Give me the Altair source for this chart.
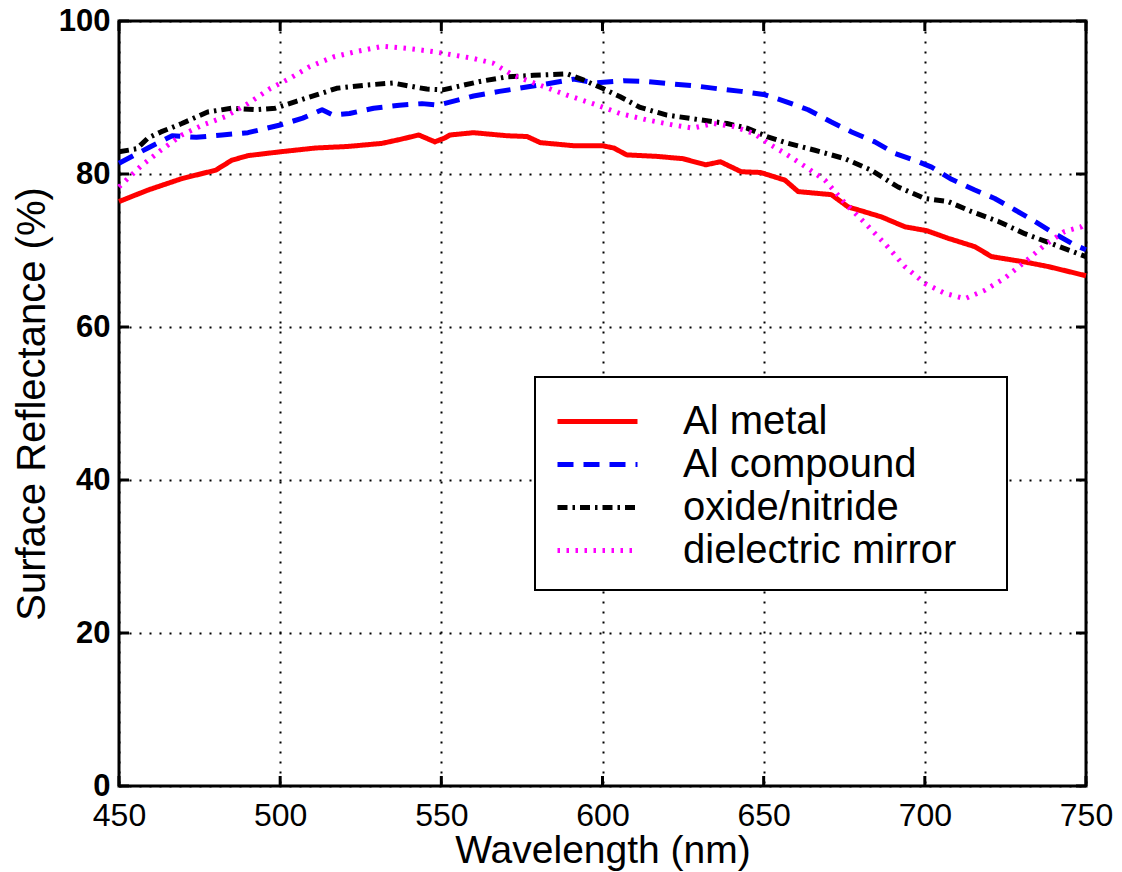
import altair as alt
import pandas as pd

FONT = "Liberation Sans, Arial, Helvetica, sans-serif"

SERIES = ["Al metal", "Al compound", "oxide/nitride", "dielectric mirror"]
COLORS = ["#ff0000", "#0000ff", "#000000", "#ff00ff"]
DASHES = [[1, 0], [16, 10], [10, 5, 2.5, 5], [2.5, 6.5]]

X_TICKS = [450, 500, 550, 600, 650, 700, 750]
Y_TICKS = [0, 20, 40, 60, 80, 100]

# Wavelength (nm) and reflectance (%) for each surface
wl_metal = [450, 459, 469.5, 480, 485, 490, 500, 511, 521, 531.5, 537, 543, 548, 551,
            552.7, 560, 570.4, 576.6, 580.7, 591, 600, 603.5, 607.5, 617, 625, 632,
            636.6, 643, 649, 656.6, 660.7, 671, 676.2, 686.5, 693.8, 700.5, 707.2,
            715.5, 720.7, 731, 738.3, 750]
r_metal = [76.4, 77.9, 79.4, 80.5, 81.8, 82.4, 82.9, 83.4, 83.6, 84.0, 84.5, 85.1, 84.2, 84.7,
           85.1, 85.4, 85.0, 84.9, 84.1, 83.7, 83.7, 83.4, 82.5, 82.3, 82.0, 81.2,
           81.6, 80.3, 80.2, 79.2, 77.7, 77.3, 75.7, 74.4, 73.1, 72.6, 71.6,
           70.5, 69.2, 68.5, 67.9, 66.7]

wl_compound = [450, 459, 466.5, 474, 482, 490, 500, 507, 513, 516.5, 521.5, 529, 537, 544,
               549, 560, 568, 575.5, 583, 591, 598, 606.5, 613.5, 620.8, 629, 636.6, 643,
               650, 656.6, 663.8, 671, 677.3, 684.5, 690.7, 698, 702.1, 708.3, 715.5,
               721.7, 728, 734.1, 740.3, 746.5, 750]
r_compound = [81.4, 83.4, 85.0, 84.8, 85.1, 85.4, 86.4, 87.3, 88.4, 87.7, 87.9, 88.6, 89.0, 89.2,
              89.0, 90.2, 90.8, 91.3, 91.8, 92.4, 91.9, 92.2, 92.1, 91.8, 91.5, 91.1, 90.8,
              90.4, 89.5, 88.4, 86.8, 85.5, 84.2, 82.7, 81.6, 80.9, 79.3, 77.9,
              76.8, 75.3, 73.8, 72.2, 70.7, 70.1]

wl_oxide = [450, 455.5, 459, 463, 469.5, 477.5, 485, 492.5, 498.5, 505, 511, 517.5, 526, 535,
            540, 545.5, 550.5, 562, 570.4, 578.6, 589, 594, 600, 605.5, 611.7, 620, 630,
            638.6, 644.8, 651, 657.6, 665.9, 675.2, 683.4, 691.7, 700, 707.2, 714.4,
            722.8, 731, 739.3, 750]
r_oxide = [82.9, 83.3, 84.7, 85.5, 86.6, 88.1, 88.6, 88.4, 88.6, 89.5, 90.3, 91.2, 91.6, 91.9,
           91.5, 91.1, 91.0, 92.1, 92.7, 92.9, 93.1, 92.3, 91.2, 90.1, 88.7, 87.7, 87.1,
           86.6, 86.0, 84.9, 84.0, 83.1, 82.0, 80.5, 78.3, 76.8, 76.4, 75.1,
           73.8, 72.2, 70.9, 69.2]

wl_mirror = [450, 456.7, 463, 469.5, 476, 483, 490, 497, 503, 509, 516.5, 523.5, 532, 540,
             547.5, 560, 566, 572.3, 580.7, 589, 597, 605.5, 613.5, 622, 628, 634.5, 640.7,
             647, 651.4, 656.6, 662.8, 669, 675.2, 681.4, 687.6, 693.8, 700, 706.2, 712.4,
             718.6, 724.8, 731, 737.2, 743.4, 748.6, 750]
r_mirror = [78.3, 81.0, 83.1, 85.1, 86.4, 87.5, 89.2, 91.2, 92.5, 94.0, 95.3, 96.0, 96.7, 96.4,
            96.0, 95.1, 94.5, 92.9, 91.6, 90.3, 89.2, 87.9, 87.1, 86.4, 86.0, 86.6, 86.2,
            85.3, 84.0, 82.7, 81.0, 79.2, 76.2, 73.6, 70.9, 67.9, 65.7, 64.4, 63.7,
            64.8, 66.4, 68.5, 70.7, 72.5, 73.1, 73.5]

frames = []
for name, wl, r in [
    (SERIES[0], wl_metal, r_metal),
    (SERIES[1], wl_compound, r_compound),
    (SERIES[2], wl_oxide, r_oxide),
    (SERIES[3], wl_mirror, r_mirror),
]:
    frames.append(pd.DataFrame({"wavelength": wl, "reflectance": r, "series": name}))
df = pd.concat(frames, ignore_index=True)

W, H = 967, 765
x_scale = alt.Scale(domain=[450, 750], nice=False, zero=False)
y_scale = alt.Scale(domain=[0, 100], nice=False)

legend_kw = dict(
    title=None, orient="none", legendX=456, legendY=378,
    symbolType="M-2,0H2", symbolSize=1600, symbolStrokeWidth=5,
    labelFontSize=40, labelFont=FONT, labelColor="black", labelOffset=63,
    rowPadding=0, padding=0, labelLimit=400,
)

x_axis = alt.Axis(
    values=X_TICKS, format="d", title="Wavelength (nm)",
    labelFont=FONT, labelFontSize=32, labelColor="black", labelPadding=14,
    labelFlush=False, labelOverlap=False,
    ticks=False, tickSize=0, domain=False,
    grid=True, gridColor="black", gridDash=[2, 8], gridWidth=2, gridOpacity=1,
    titleFont=FONT, titleFontSize=39, titleFontWeight="normal", titleColor="black",
    titlePadding=0,
)
y_axis = alt.Axis(
    values=Y_TICKS, format="d", title="Surface Reflectance (%)",
    labelFont=FONT, labelFontSize=31, labelFontWeight="bold", labelColor="black",
    labelPadding=9, labelOverlap=False,
    ticks=False, tickSize=0, domain=False,
    grid=True, gridColor="black", gridDash=[2, 8], gridWidth=2, gridOpacity=1,
    titleFont=FONT, titleFontSize=40, titleFontWeight="normal", titleColor="black",
    titlePadding=6,
)

lines = alt.Chart(df).mark_line(strokeWidth=5, strokeCap="butt", strokeJoin="round").encode(
    x=alt.X("wavelength:Q", scale=x_scale, axis=x_axis),
    y=alt.Y("reflectance:Q", scale=y_scale, axis=y_axis),
    color=alt.Color("series:N", scale=alt.Scale(domain=SERIES, range=COLORS),
                    legend=alt.Legend(**legend_kw)),
    strokeDash=alt.StrokeDash("series:N", scale=alt.Scale(domain=SERIES, range=DASHES),
                              legend=alt.Legend(**legend_kw)),
)

# Inward-pointing tick marks on all four sides of the frame
xt = pd.DataFrame({"wavelength": X_TICKS})
yt = pd.DataFrame({"reflectance": Y_TICKS})
tick_style = dict(color="black", strokeWidth=3)
ticks_bottom = alt.Chart(xt).mark_rule(**tick_style).encode(
    x=alt.X("wavelength:Q", scale=x_scale), y=alt.value(H), y2=alt.value(H - 10))
ticks_top = alt.Chart(xt).mark_rule(**tick_style).encode(
    x=alt.X("wavelength:Q", scale=x_scale), y=alt.value(0), y2=alt.value(10))
ticks_left = alt.Chart(yt).mark_rule(**tick_style).encode(
    y=alt.Y("reflectance:Q", scale=y_scale), x=alt.value(0), x2=alt.value(10))
ticks_right = alt.Chart(yt).mark_rule(**tick_style).encode(
    y=alt.Y("reflectance:Q", scale=y_scale), x=alt.value(W), x2=alt.value(W - 10))

# Opaque legend frame
legend_box = alt.Chart(pd.DataFrame({"k": [0]})).mark_rect(
    fill="white", stroke="black", strokeWidth=2).encode(
    x=alt.value(416), x2=alt.value(888), y=alt.value(356), y2=alt.value(569))

chart = alt.layer(
    lines, ticks_bottom, ticks_top, ticks_left, ticks_right, legend_box
).properties(
    width=W, height=H,
    autosize=alt.AutoSizeParams(type="none"),
    padding={"left": 119, "top": 21, "right": 36, "bottom": 86},
    background="white",
).configure_view(stroke="black", strokeWidth=3)

chart.save("out.html", embed_options={"renderer": "svg", "actions": False})
